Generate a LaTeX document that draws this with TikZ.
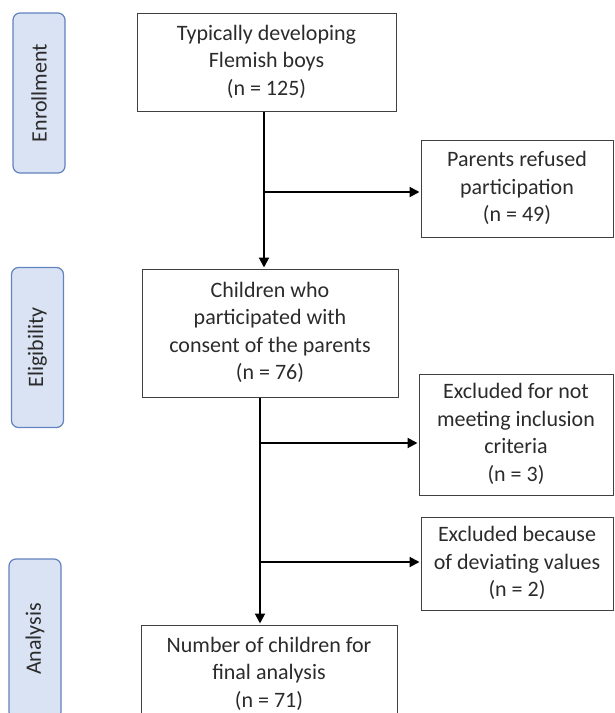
\documentclass[tikz,border=0pt]{standalone}
\usepackage{fontspec}
\setmainfont{Carlito}
\usetikzlibrary{arrows.meta,positioning}
\definecolor{stagefill}{HTML}{DAE3F3}
\definecolor{stageline}{HTML}{6282C0}
\definecolor{boxline}{HTML}{404040}
\definecolor{txt}{HTML}{2B2B2B}

\begin{document}
\begin{tikzpicture}[x=1pt,y=-1pt,
      box/.style={draw=boxline,line width=1pt,align=center,inner sep=0pt,
                  text=txt,font=\fontsize{22}{27.5}\selectfont},
      stage/.style={draw=stageline,fill=stagefill,rounded corners=7pt,
                  line width=1.2pt,rotate=90,inner sep=0pt,text=txt,
                  minimum width=160pt,minimum height=52pt,
                  font=\fontsize{22}{24}\selectfont},
      arr/.style={-{Triangle[length=10pt,width=10pt]},line width=2pt,
                  shorten >=1pt}]
    \useasboundingbox (0,0) rectangle (614,713);
    \clip (0,0) rectangle (614,713);

    % stages on the left
    \node[stage] (enroll) at (39,93) {Enrollment};
    \node[stage] (elig) at (37.5,347.5) {Eligibility};
    \node[stage] (analysis) at (35,639) {Analysis};

    % main flow
    \node[box,minimum width=259pt,minimum height=98pt,text depth=4pt] (start) at (266.5,62)
      {Typically developing\\Flemish boys\\(n = 125)};
    \node[box,minimum width=256pt,minimum height=128pt,text depth=4pt] (consent) at (270,333)
      {Children who\\participated with\\consent of the parents\\(n = 76)};
    \node[box,minimum width=256pt,minimum height=98pt,text depth=4pt] (final) at (269,674)
      {Number of children for\\final analysis\\(n = 71)};

    % exclusions
    \node[box,minimum width=192pt,minimum height=97pt,text depth=4pt] (refused) at (517,188.5)
      {Parents refused\\participation\\(n = 49)};
    \node[box,minimum width=194pt,minimum height=121pt,text depth=4pt] (notmeet) at (516,434.5)
      {Excluded for not\\meeting inclusion\\criteria\\(n = 3)};
    \node[box,minimum width=192pt,minimum height=93pt,text depth=4pt] (deviating) at (517,563.5)
      {Excluded because\\of deviating values\\(n = 2)};

    \coordinate (fork1) at (264,192);
    \coordinate (fork2) at (260,443);
    \coordinate (fork3) at (260,562);

    \draw[arr] (start.south -| fork1) -- (consent.north -| fork1);
    \draw[arr] (fork1) -- (fork1 -| refused.west);
    \draw[arr] (consent.south -| fork2) -- (final.north -| fork2);
    \draw[arr] (fork2) -- (fork2 -| notmeet.west);
    \draw[arr] (fork3) -- (fork3 -| deviating.west);
  \end{tikzpicture}
\end{document}
